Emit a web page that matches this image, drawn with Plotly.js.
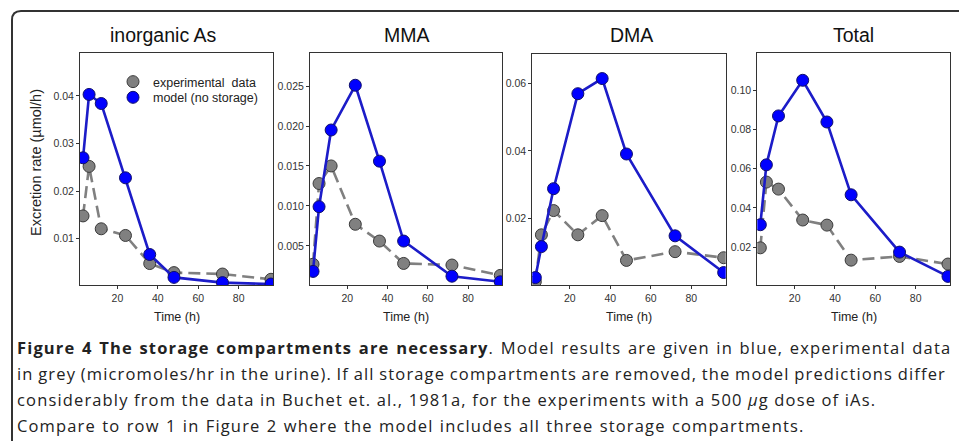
<!DOCTYPE html>
<html>
<head>
<meta charset="utf-8">
<script src="https://cdn.plot.ly/plotly-3.0.1.min.js"></script>
<style>html,body{margin:0;padding:0;background:#fff;}#chart{width:959px;height:441px;}</style>
</head>
<body>
<div id="chart"></div>
<script>
// ---- data ----
const time = [3, 6, 12, 24, 36, 48, 72, 96];
const panelTitles = ["inorganic As", "MMA", "DMA", "Total"];
const iasExp   = [0.0148, 0.0252, 0.0121, 0.0107, 0.0048, 0.0029, 0.0026, 0.0015];
const iasModel = [0.0270, 0.0403, 0.0384, 0.0228, 0.0067, 0.0019, 0.0008, 0.0005];
const mmaExp   = [0.0027, 0.0128, 0.0150, 0.0077, 0.0056, 0.0028, 0.0026, 0.0013];
const mmaModel = [0.0018, 0.0099, 0.0195, 0.0251, 0.0156, 0.0056, 0.0012, 0.0005];
const dmaExp   = [0.0012, 0.0151, 0.0223, 0.0151, 0.0208, 0.0075, 0.0101, 0.0083];
const dmaModel = [0.0024, 0.0116, 0.0288, 0.0570, 0.0615, 0.0391, 0.0148, 0.0039];
const totExp   = [0.0196, 0.0532, 0.0496, 0.0338, 0.0312, 0.0133, 0.0152, 0.0113];
const totModel = [0.0314, 0.0620, 0.0870, 0.1052, 0.0839, 0.0467, 0.0174, 0.0050];
const xTicks = [20, 40, 60, 80];
const yTicks1 = [0.01, 0.02, 0.03, 0.04];
const yTicks2 = [0.005, 0.010, 0.015, 0.020, 0.025];
const yTicks3 = [0.02, 0.04, 0.06];
const yTicks4 = [0.02, 0.04, 0.06, 0.08, 0.10];
const seriesNames = ["experimental  data", "model (no storage)"];
const xTitle = "Time (h)";
const yTitle = "Excretion rate (µmol/h)";
const captionLines = [
  "<b>Figure 4 The storage compartments are necessary</b>. Model results are given in blue, experimental data",
  "in grey (micromoles/hr in the urine). If all storage compartments are removed, the model predictions differ",
  "considerably from the data in Buchet et. al., 1981a, for the experiments with a 500 <i>µ</i>g dose of iAs.",
  "Compare to row 1 in Figure 2 where the model includes all three storage compartments."
];

// ---- layout helpers ----
const W = 959, H = 441;
const px = v => v / W;
const py = v => 1 - v / H;
const FONT = "Liberation Sans, Arial, sans-serif";

const expStyle = {
  mode: "lines+markers",
  line: {color: "#808080", width: 2.6, dash: "12px,6px"},
  marker: {color: "#808080", size: 12, line: {color: "#3a3a3a", width: 1}},
  showlegend: false, hoverinfo: "skip"
};
const modStyle = {
  mode: "lines+markers",
  line: {color: "#1c1cc8", width: 2.6},
  marker: {color: "#0000ff", size: 12, line: {color: "#10106a", width: 1}},
  showlegend: false, hoverinfo: "skip"
};

const pairs = [[iasExp, iasModel], [mmaExp, mmaModel], [dmaExp, dmaModel], [totExp, totModel]];
const traces = [];
pairs.forEach((p, i) => {
  const ax = i === 0 ? "" : String(i + 1);
  traces.push(Object.assign({}, expStyle, {x: time, y: p[0], xaxis: "x" + ax, yaxis: "y" + ax}));
  traces.push(Object.assign({}, modStyle, {x: time, y: p[1], xaxis: "x" + ax, yaxis: "y" + ax}));
});
// legend-only entries
traces.push({x: [null], y: [null], mode: "markers", name: seriesNames[0], showlegend: true, legend: "legend",
  marker: {color: "#808080", size: 12, line: {color: "#3a3a3a", width: 1}}, xaxis: "x", yaxis: "y"});
traces.push({x: [null], y: [null], mode: "markers", name: seriesNames[1], showlegend: true, legend: "legend2",
  marker: {color: "#0000ff", size: 12, line: {color: "#10106a", width: 1}}, xaxis: "x", yaxis: "y"});

const boxes = [
  {x: [80, 273],    y: [53, 285],   range: [0.0003, 0.049],  ticks: yTicks1, fmt: ".2f", tx: 163},
  {x: [310, 502.3], y: [53.3, 285], range: [0.0001, 0.0291], ticks: yTicks2, fmt: ".3f", tx: 406.7},
  {x: [532.3, 725.7], y: [54.3, 285], range: [0.0002, 0.0687], ticks: yTicks3, fmt: ".2f", tx: 631.7},
  {x: [757.3, 950], y: [53.3, 285], range: [0.0006, 0.119],  ticks: yTicks4, fmt: ".2f", tx: 853.3}
];

const layout = {
  width: W, height: H,
  margin: {l: 0, r: 0, t: 0, b: 0},
  paper_bgcolor: "#fff", plot_bgcolor: "#fff",
  font: {family: FONT, color: "#222"},
  annotations: [], shapes: [],
  legend: {x: px(113), y: py(67), xanchor: "left", yanchor: "top", bgcolor: "rgba(0,0,0,0)",
           font: {family: FONT, size: 12.5, color: "#222"}, borderwidth: 0},
  legend2: {x: px(113), y: py(82.7), xanchor: "left", yanchor: "top", bgcolor: "rgba(0,0,0,0)",
           font: {family: FONT, size: 12.5, color: "#222"}, borderwidth: 0}
};

boxes.forEach((b, i) => {
  const k = i === 0 ? "" : String(i + 1);
  layout["xaxis" + k] = {
    domain: [px(b.x[0]), px(b.x[1])], range: [1.5, 97], anchor: "y" + k,
    tickvals: xTicks, ticks: "outside", ticklen: 3, tickcolor: "#333",
    showline: true, mirror: true, linecolor: "#333", linewidth: 1,
    showgrid: false, zeroline: false, fixedrange: true,
    tickfont: {family: FONT, size: 10.5, color: "#333"}
  };
  layout["yaxis" + k] = {
    domain: [py(b.y[1]), py(b.y[0])], range: b.range, anchor: "x" + k,
    tickvals: b.ticks, tickformat: b.fmt, ticks: "outside", ticklen: 3, tickcolor: "#333",
    showline: true, mirror: true, linecolor: "#333", linewidth: 1,
    showgrid: false, zeroline: false, fixedrange: true,
    tickfont: {family: FONT, size: 10.5, color: "#333"}
  };
  // panel title
  layout.annotations.push({xref: "paper", yref: "paper", x: px(b.tx), y: py(35),
    xanchor: "center", yanchor: "middle", showarrow: false, text: panelTitles[i],
    font: {family: FONT, size: 19.5, color: "#111"}});
  // x-axis title
  layout.annotations.push({xref: "paper", yref: "paper", x: px((b.x[0] + b.x[1]) / 2), y: py(316.5),
    xanchor: "center", yanchor: "middle", showarrow: false, text: xTitle,
    font: {family: FONT, size: 12.5, color: "#222"}});
});

// y-axis title
layout.annotations.push({xref: "paper", yref: "paper", x: px(36), y: py(163), textangle: -90,
  xanchor: "center", yanchor: "middle", showarrow: false, text: yTitle,
  font: {family: FONT, size: 14.5, color: "#222"}});

// caption
const capY = [347, 373, 399, 425];
const capWS = [1.2, -0.8, 0, 0.9];
captionLines.forEach((t, i) => {
  layout.annotations.push({xref: "paper", yref: "paper", x: px(15), y: py(capY[i]),
    xanchor: "left", yanchor: "middle", align: "left", showarrow: false,
    text: `<span style="letter-spacing:1.15px;word-spacing:${capWS[i]}px">${t}</span>`,
    font: {family: "Open Sans, sans-serif", size: 16.5, color: "#222"}});
});

// rounded outer frame
const r = 9;
layout.shapes.push({type: "path", xref: "paper", yref: "paper", layer: "above",
  path: `M ${px(12)},${py(445)} L ${px(12)},${py(11 + r)} Q ${px(12)},${py(11)} ${px(12 + r)},${py(11)} L ${px(962)},${py(11)}`,
  line: {color: "#333", width: 2}});

Plotly.newPlot("chart", traces, layout, {staticPlot: true, displayModeBar: false});
</script>
</body>
</html>
